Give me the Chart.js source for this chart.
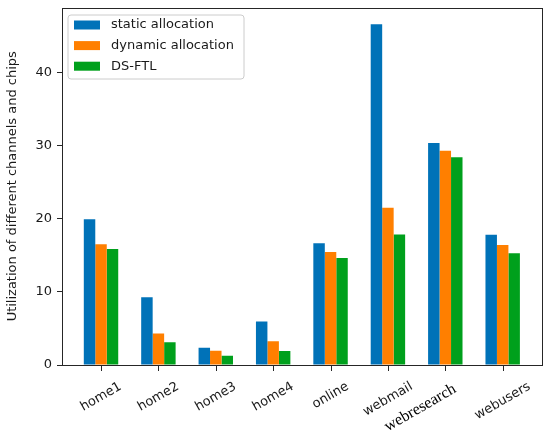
<!DOCTYPE html>
<html><head><meta charset="utf-8">
<script src="https://cdn.jsdelivr.net/npm/chart.js@4"></script>
<style>html,body{margin:0;padding:0;background:#fff;}canvas{display:block;}</style>
</head><body>
<canvas id="c" width="550" height="442"></canvas>
<script>
const categories = ['home1','home2','home3','home4','online','webmail','webresearch','webusers'];
const seriesNames = ['static allocation','dynamic allocation','DS-FTL'];
const staticAlloc = [19.95, 9.25, 2.35, 5.95, 16.65, 46.6, 30.35, 17.8];
const dynamicAlloc = [16.5, 4.3, 1.95, 3.25, 15.45, 21.5, 29.3, 16.4];
const dsFtl = [15.85, 3.1, 1.25, 1.9, 14.65, 17.85, 28.4, 15.3];
const yTicks = [0, 10, 20, 30, 40];
const yTitle = 'Utilization of different channels and chips';

const colors = ['#0072b8', '#ff7f00', '#00a01c'];
const seriesValues = [staticAlloc, dynamicAlloc, dsFtl];
const TXT = '#1a1a1a';
const FONT = '"DejaVu Sans", sans-serif';

const datasets = seriesValues.map((vals, s) => ({
  label: seriesNames[s],
  data: vals.map((v, i) => ({x: i, y: v})),
  backgroundColor: colors[s],
  borderWidth: 0,
  categoryPercentage: 0.6,
  barPercentage: 1.0
}));

const decorPlugin = {
  id: 'decor',
  afterDraw(chart) {
    const ctx = chart.ctx, a = chart.chartArea, xs = chart.scales.x;
    ctx.save();
    ctx.strokeStyle = '#262626';
    ctx.lineWidth = 1;
    ctx.strokeRect(Math.round(a.left) + 0.5, Math.round(a.top) + 0.5,
                   Math.round(a.right) - Math.round(a.left), Math.round(a.bottom) - Math.round(a.top));
    ctx.fillStyle = '#262626';
    categories.forEach((_, i) => {
      const px = Math.round(xs.getPixelForValue(i));
      ctx.fillRect(px, Math.round(a.bottom), 1, 6);
    });
    ctx.restore();
    categories.forEach((lab, i) => {
      const px = xs.getPixelForValue(i);
      let size = 13, font = FONT, color = TXT, dx = 0, dy = 0;
      if (lab === 'webresearch') { size = 16; font = '"Liberation Serif", serif'; color = '#000'; dx = -25; dy = 1; }
      ctx.save();
      ctx.font = size + 'px ' + font;
      const w = ctx.measureText(lab).width;
      const ang = 30 * Math.PI / 180;
      const bh = w * Math.sin(ang) + size * Math.cos(ang);
      const cx = px + dx, cy = a.bottom + 15 + bh / 2 + dy;
      ctx.translate(cx, cy);
      ctx.rotate(-ang);
      ctx.fillStyle = color;
      ctx.textAlign = 'center';
      ctx.textBaseline = 'middle';
      ctx.fillText(lab, 0, 0);
      ctx.restore();
    });
    const lx = a.left + 6, ly = a.top + 7.5, lw = 176, lh = 64;
    ctx.save();
    ctx.beginPath();
    if (ctx.roundRect) ctx.roundRect(lx, ly, lw, lh, 3); else ctx.rect(lx, ly, lw, lh);
    ctx.fillStyle = 'rgba(255,255,255,0.8)';
    ctx.fill();
    ctx.strokeStyle = '#cccccc';
    ctx.lineWidth = 1;
    ctx.stroke();
    ctx.font = '13px ' + FONT;
    ctx.textBaseline = 'middle';
    ctx.textAlign = 'left';
    chart.data.datasets.forEach((ds, k) => {
      const cy = ly + 10 + k * 20.6;
      ctx.fillStyle = ds.backgroundColor;
      ctx.fillRect(lx + 6, cy - 4.5, 26, 9);
      ctx.fillStyle = TXT;
      ctx.fillText(ds.label, lx + 43, cy);
    });
    ctx.restore();
  }
};

new Chart(document.getElementById('c'), {
  type: 'bar',
  data: { datasets },
  options: {
    responsive: false,
    animation: false,
    devicePixelRatio: 1,
    layout: { padding: { left: 0, top: 7.5, right: 8.3, bottom: 0 } },
    plugins: { legend: { display: false }, tooltip: { enabled: false } },
    scales: {
      x: {
        type: 'linear',
        min: -0.68,
        max: 7.68,
        offset: false,
        border: { display: false },
        grid: { display: false },
        ticks: { display: false, autoSkip: false },
        afterBuildTicks: (s) => { s.ticks = categories.map((_, i) => ({ value: i })); },
        afterFit: (s) => { s.height = 77; s.paddingLeft = 0; s.paddingRight = 0; }
      },
      y: {
        type: 'linear',
        min: 0,
        max: 48.9,
        border: { display: false },
        grid: { display: true, drawOnChartArea: false, drawTicks: true, tickLength: 5, color: '#262626', lineWidth: 1 },
        ticks: { color: TXT, font: { family: FONT, size: 13 }, padding: 5, includeBounds: false, stepSize: 10 },
        afterBuildTicks: (s) => { s.ticks = yTicks.map(v => ({ value: v })); },
        afterFit: (s) => { s.width = 62; s.paddingTop = 0; s.paddingBottom = 0; },
        title: { display: true, text: yTitle, color: TXT, font: { family: FONT, size: 13 }, padding: { top: 5, bottom: 0 } }
      }
    }
  },
  plugins: [decorPlugin]
});
</script>
</body></html>
